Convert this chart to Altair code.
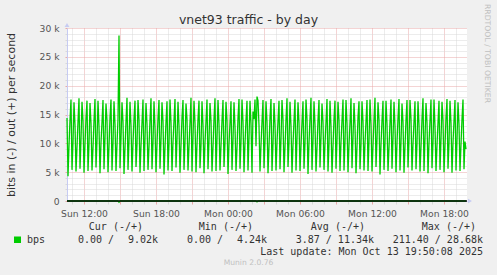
import altair as alt
import pandas as pd

# ---- data ----
START = "2025-10-12T10:35:00Z"      # first 5-minute sample (Sun 10:35 UTC)
STEP = "5min"

# outgoing traffic, kbit/s, one value per 5-minute sample
out_k = [
    14.4, 4.3, 9.6, 14.1, 17.6, 5.4, 10.2, 17.1,
    13.2, 5.1, 9.4, 13.8, 17.8, 5.6, 10.6, 17.2,
    13.9, 4.9, 9.9, 14.4, 17.4, 5.2, 9.8, 17.0,
    13.5, 5.3, 9.3, 14.0, 17.7, 5.8, 10.4, 17.4,
    12.9, 4.8, 10.1, 13.7, 17.5, 5.5, 10.9, 16.9,
    14.0, 5.0, 9.5, 14.5, 17.6, 5.3, 10.0, 17.3,
    13.3, 5.2, 9.8, 14.2, 28.68, 5.7, 10.7, 17.1,
    13.7, 4.7, 9.2, 13.9, 17.9, 5.4, 10.3, 17.2,
    13.1, 5.1, 10.0, 14.3, 17.4, 5.9, 9.7, 17.5,
    14.1, 4.9, 9.6, 13.6, 17.6, 5.2, 10.8, 17.0,
    13.4, 5.4, 9.4, 14.1, 17.8, 5.5, 10.1, 17.3,
    12.8, 5.0, 9.9, 14.4, 17.5, 5.6, 10.5, 17.1,
    13.8, 4.6, 9.3, 13.8, 17.3, 5.3, 9.9, 17.6,
    13.6, 5.2, 10.2, 14.0, 17.7, 5.8, 10.6, 17.2,
    13.0, 4.9, 9.7, 14.5, 17.5, 5.4, 10.2, 16.9,
    14.2, 5.3, 9.5, 13.7, 17.9, 5.1, 10.9, 17.4,
    13.5, 5.0, 9.8, 14.2, 17.4, 5.7, 9.6, 17.3,
    13.2, 4.8, 10.1, 13.9, 17.6, 5.5, 10.4, 17.0,
    13.9, 5.1, 9.4, 14.3, 17.8, 5.2, 10.7, 17.5,
    13.3, 5.3, 9.6, 14.0, 17.5, 5.9, 10.0, 17.2,
    14.0, 4.7, 9.9, 13.6, 17.3, 5.4, 10.5, 17.1,
    12.9, 5.2, 9.3, 14.4, 17.7, 5.6, 10.2, 17.6,
    13.7, 5.0, 10.0, 14.1, 17.4, 5.3, 10.8, 17.4,
    13.4, 4.9, 15.5, 14.2, 17.6, 9.5, 18.1, 17.4,
    13.1, 5.1, 9.7, 13.8, 17.5, 5.7, 10.3, 17.3,
    13.8, 4.8, 9.5, 14.5, 17.7, 5.2, 9.9, 17.0,
    13.3, 5.3, 10.1, 13.9, 17.4, 5.5, 10.6, 17.5,
    14.1, 5.0, 9.4, 14.2, 17.8, 5.9, 10.1, 17.2,
    13.0, 4.9, 9.8, 14.0, 17.6, 5.3, 10.7, 17.1,
    13.6, 5.2, 9.6, 13.7, 17.3, 5.6, 10.0, 17.6,
    14.2, 4.7, 10.0, 14.4, 17.9, 5.4, 10.4, 17.3,
    13.2, 5.1, 9.3, 14.1, 17.5, 5.8, 10.9, 16.9,
    13.7, 5.4, 9.9, 13.8, 17.7, 5.1, 9.8, 17.4,
    12.9, 4.9, 9.5, 14.3, 17.4, 5.6, 10.5, 17.2,
    14.0, 5.2, 10.2, 14.0, 17.6, 5.3, 10.2, 17.5,
    13.5, 5.0, 9.7, 13.6, 17.8, 5.7, 10.8, 17.0,
    13.1, 4.8, 9.4, 14.5, 17.3, 5.5, 9.7, 17.3,
    13.8, 5.3, 10.0, 13.9, 17.5, 5.2, 10.3, 17.6,
    13.3, 5.1, 9.6, 14.2, 17.9, 5.9, 10.6, 17.1,
    14.1, 4.6, 9.8, 14.0, 17.4, 5.4, 10.0, 17.4,
    13.4, 5.2, 9.3, 13.7, 17.6, 5.6, 10.7, 17.2,
    13.0, 5.0, 10.1, 14.4, 17.7, 5.3, 10.1, 16.9,
    13.7, 4.9, 9.5, 14.1, 17.5, 5.8, 10.4, 17.5,
    14.2, 5.3, 9.9, 13.8, 17.3, 5.5, 9.9, 17.3,
    13.2, 5.1, 9.4, 14.3, 17.8, 5.2, 10.8, 17.0,
    13.6, 4.8, 10.0, 14.0, 17.6, 5.7, 10.2, 17.6,
    12.9, 5.2, 9.7, 13.6, 17.4, 5.4, 10.6, 17.2,
    14.0, 5.0, 9.6, 14.5, 17.7, 5.6, 10.0, 17.4,
    13.5, 4.9, 10.1, 13.9, 17.5, 5.3, 10.5, 17.1,
    13.3, 5.2, 9.8, 14.2, 17.6, 5.5, 10.3, 9.02,
]
# incoming traffic (bit/s) - zero except two tiny blips
in_blips = {52: 211.4, 190: 150.0}

y_ticks = list(range(0, 30001, 1000))

title_text = "vnet93 traffic - by day"
y_title = "bits in (-) / out (+) per second"
side_text = "RRDTOOL / TOBI OETIKER"
headers = ["Cur (-/+)", "Min (-/+)", "Avg (-/+)", "Max (-/+)"]
series_name = "bps"
cur_vals = ["0.00 /", "9.02k"]
min_vals = ["0.00 /", "4.24k"]
avg_val = "3.87 / 11.34k"
max_val = "211.40 / 28.68k"
last_update = "Last update: Mon Oct 13 19:50:08 2025"
footer = "Munin 2.0.76"

# ---- build table ----
times = pd.date_range(START, periods=len(out_k), freq=STEP)
df = pd.DataFrame({
    "t": times.strftime("%Y-%m-%dT%H:%M:%SZ"),
    "out": [v * 1000 for v in out_k],
    "inn": [-in_blips.get(i, 0.0) for i in range(len(out_k))],
})
start_ms = int(times[0].value // 10**6)
end_ms = start_ms + 400 * 5 * 60 * 1000
hour_vals = [int(h.value // 10**6) for h in
             pd.date_range("2025-10-12T11:00:00Z", "2025-10-13T19:00:00Z", freq="1h")]

GREEN = "#00cc00"
MAJOR = "#e9a9a9"
MINOR = "#d9d9d9"
LAV = "#c6cbf2"
TXT = "#333333"
AX = "#555555"

xscale = alt.Scale(type="utc", domain=[start_ms, end_ms])
yscale = alt.Scale(domain=[0, 30000], nice=False, zero=False)

xaxis = alt.Axis(
    values=hour_vals, title=None, grid=True, gridDash=[1, 1],
    gridColor={"condition": {"test": "utchours(datum.value) % 3 == 0", "value": MAJOR}, "value": MINOR},
    tickColor={"condition": {"test": "utchours(datum.value) % 3 == 0", "value": MAJOR}, "value": MINOR},
    tickSize=3, domainColor=LAV, domainWidth=1,
    labelExpr="utchours(datum.value) % 6 == 0 ? utcFormat(datum.value, '%a %H:%M') : ''",
    labelFont="DejaVu Sans", labelFontSize=9.2, labelColor=AX,
    labelPadding=9, labelBaseline="middle", labelOverlap=False, labelFlush=False,
)
yaxis = alt.Axis(
    values=y_ticks, title=None, grid=True, gridDash=[1, 1],
    gridColor={"condition": {"test": "datum.value % 5000 == 0", "value": MAJOR}, "value": MINOR},
    tickColor={"condition": {"test": "datum.value % 5000 == 0", "value": MAJOR}, "value": MINOR},
    tickSize=2, domainColor=LAV, domainWidth=1,
    labelExpr="datum.value % 5000 == 0 ? (datum.value == 0 ? '0' : (datum.value / 1000) + ' k') : ''",
    labelFont="DejaVu Sans", labelFontSize=9.2, labelColor=AX,
    labelPadding=6, labelOverlap=False, labelFlush=False,
)

base = alt.Chart(df)
line_in = base.mark_line(color=GREEN, strokeWidth=1.3, clip=False).encode(
    x=alt.X("t:T", scale=xscale, axis=xaxis),
    y=alt.Y("inn:Q", scale=yscale, axis=yaxis),
)
line_out = base.mark_line(color=GREEN, strokeWidth=1.3).encode(
    x=alt.X("t:T", scale=xscale, axis=xaxis),
    y=alt.Y("out:Q", scale=yscale, axis=yaxis),
)
zero = alt.Chart(pd.DataFrame({"z": [0]})).mark_rule(color="black", strokeWidth=1.6).encode(
    x=alt.value(0), x2=alt.value(400), y=alt.value(173)
)
arrows = [
    alt.Chart(pd.DataFrame({"a": [0]})).mark_point(shape="triangle-up", filled=True, color=LAV, size=22, opacity=1).encode(
        x=alt.value(0), y=alt.value(-3)),
    alt.Chart(pd.DataFrame({"a": [0]})).mark_point(shape="triangle-right", filled=True, color=LAV, size=22, opacity=1).encode(
        x=alt.value(403), y=alt.value(173)),
]


def txt(s, x, y, align="left", font="DejaVu Sans Mono", size=10, color=TXT, angle=0):
    return alt.Chart(pd.DataFrame({"s": [s]})).mark_text(
        align=align, baseline="middle", font=font, fontSize=size, color=color, angle=angle
    ).encode(x=alt.value(x), y=alt.value(y), text="s:N")


texts = [
    txt(title_text, 181.5, -8, align="center", font="DejaVu Sans", size=12.5, color="#333333"),
    txt(y_title, -55, 87, align="center", font="DejaVu Sans", size=11, color="#333333", angle=270),
    txt(side_text, 420, 25.5, align="center", font="DejaVu Sans", size=7.7, color="#c0c0c0", angle=90),
    txt(headers[0], 76, 199, align="right"),
    txt(headers[1], 186, 199, align="right"),
    txt(headers[2], 298, 199, align="right"),
    txt(headers[3], 409, 199, align="right"),
    txt(series_name, -40, 212),
    txt(cur_vals[0], 47, 212, align="right"),
    txt(cur_vals[1], 91, 212, align="right"),
    txt(min_vals[0], 156, 212, align="right"),
    txt(min_vals[1], 200, 212, align="right"),
    txt(avg_val, 307, 212, align="right"),
    txt(max_val, 416, 212, align="right"),
    txt(last_update, 416, 224, align="right"),
    txt(footer, 181.5, 235, align="center", font="DejaVu Sans", size=7.6, color="#c0c0c0"),
]
swatch = alt.Chart(pd.DataFrame({"a": [0]})).mark_rect(color=GREEN).encode(
    x=alt.value(-53), x2=alt.value(-46), y=alt.value(208.5), y2=alt.value(215)
)

chart = alt.layer(line_in, line_out, zero, *arrows, swatch, *texts).properties(
    width=400, height=173,
    padding={"left": 67, "top": 28, "right": 30, "bottom": 74},
    autosize=alt.AutoSizeParams(type="none"),
    background="#f0f0f0",
).configure_view(stroke=None, fill="white")

chart.save("out.html", embed_options={"renderer": "svg", "actions": False})
